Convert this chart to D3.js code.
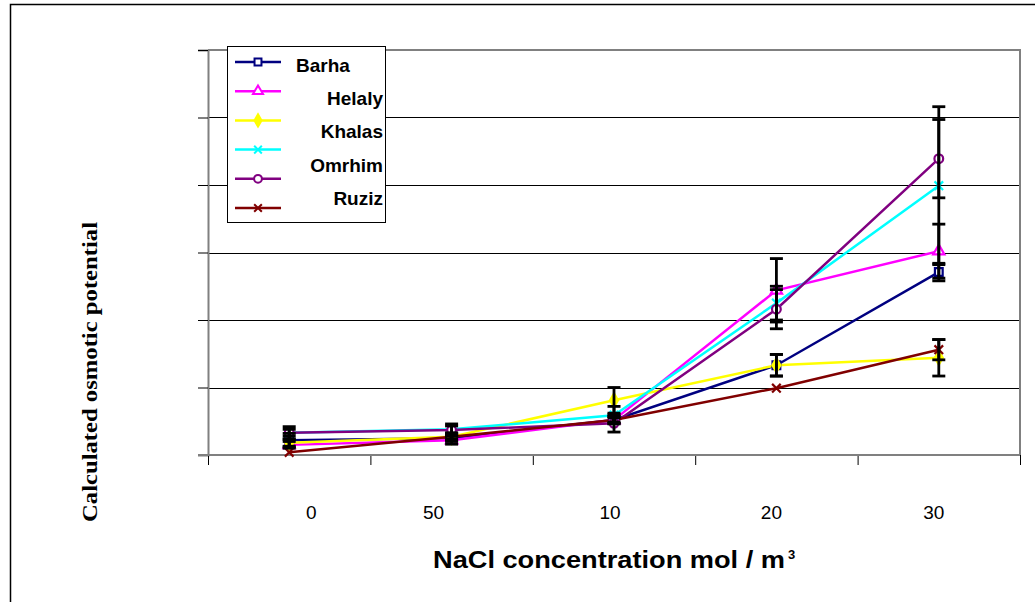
<!DOCTYPE html>
<html>
<head>
<meta charset="utf-8">
<script src="https://cdn.jsdelivr.net/npm/d3@7"></script>
<style>
  body { margin: 0; background: #fff; }
  svg { display: block; }
</style>
</head>
<body>
<div id="chart"></div>
<script>
// categories on the x axis (labels as printed, truncated)
const categories = ['0', '50', '10', '20', '30'];
const yTicks = [0, 1, 2, 3, 4, 5, 6];

// series values (arbitrary units)
const barha   = [0.22, 0.25, 0.52, 1.33, 2.71];
const helaly  = [0.15, 0.22, 0.52, 2.44, 3.02];
const khalas  = [0.18, 0.27, 0.81, 1.33, 1.44];
const omrhim  = [0.33, 0.38, 0.59, 2.25, 3.99];
const omrhim2 = [0.33, 0.37, 0.47, 2.16, 4.39];
const ruziz   = [0.04, 0.27, 0.52, 0.99, 1.56];

// error bar half-widths
const barhaErr   = [0.10, 0.05, 0.05, 0.16, 0.13];
const helalyErr  = [0.05, 0.06, 0.05, 0.47, 0.40];
const khalasErr  = [0.05, 0.05, 0.19, 0.16, 0.27];
const omrhimErr  = [0.05, 0.05, 0.13, 0.25, 1.17];
const omrhim2Err = [0.09, 0.09, 0.13, 0.29, 0.58];
const ruzizErr   = [0.00, 0.03, 0.03, 0.00, 0.15];

const legendLabels = ['Barha', 'Helaly', 'Khalas', 'Omrhim', 'Ruziz'];

const series = [
  {name: 'Barha',   values: barha,   err: barhaErr,   color: '#000080', symbol: d3.symbolSquare,   size: 60, filled: false},
  {name: 'Helaly',  values: helaly,  err: helalyErr,  color: '#ff00ff', symbol: d3.symbolTriangle, size: 55, filled: false},
  {name: 'Khalas',  values: khalas,  err: khalasErr,  color: '#ffff00', symbol: d3.symbolDiamond,  size: 55, filled: true},
  {name: 'Omrhim',  values: omrhim,  err: omrhimErr,  color: '#00ffff', symbol: d3.symbolX,        size: 50, filled: false},
  {name: 'Omrhim2', values: omrhim2, err: omrhim2Err, color: '#800080', symbol: d3.symbolCircle,   size: 60, filled: false},
  {name: 'Ruziz',   values: ruziz,   err: ruzizErr,   color: '#800000', symbol: d3.symbolX,        size: 50, filled: false}
];

const width = 1035, height = 602;
const plot = {left: 208, right: 1020, top: 50, bottom: 455};
const labelOffsets = [22, -18, -4, -5, -5];

const svg = d3.select('#chart').append('svg')
  .attr('width', width)
  .attr('height', height);

svg.append('rect')
  .attr('width', width).attr('height', height).attr('fill', '#fff');

// outer frame (only top and left are inside the page)
svg.append('rect')
  .attr('x', 10.5).attr('y', 4.5)
  .attr('width', 1200).attr('height', 800)
  .attr('fill', 'none').attr('stroke', '#000').attr('stroke-width', 1.5);

const x = d3.scaleBand()
  .domain(categories)
  .range([plot.left, plot.right]);

const xEdge = d3.scaleLinear()
  .domain([0, categories.length])
  .range([plot.left, plot.right]);

const y = d3.scaleLinear()
  .domain([0, 6])
  .range([plot.bottom, plot.top]);

// gridlines
svg.append('g')
  .selectAll('line')
  .data(yTicks.slice(1, -1))
  .join('line')
  .attr('x1', plot.left).attr('x2', plot.right)
  .attr('y1', d => Math.round(y(d)) + 0.5).attr('y2', d => Math.round(y(d)) + 0.5)
  .attr('stroke', '#000').attr('stroke-width', 1);

// plot frame (gray)
svg.append('path')
  .attr('d', `M${plot.left},${plot.top}H${plot.right}V${plot.bottom}`)
  .attr('fill', 'none').attr('stroke', '#808080').attr('stroke-width', 2);

// y axis: ticks only
const yAxis = svg.append('g')
  .attr('transform', `translate(${plot.left},0)`)
  .call(d3.axisLeft(y).tickValues(yTicks).tickSize(10).tickFormat(''));
yAxis.select('.domain').attr('stroke', '#808080').attr('stroke-width', 2);
yAxis.selectAll('.tick line').attr('stroke', '#000');

// x axis: ticks at category edges
const xAxis = svg.append('g')
  .attr('transform', `translate(0,${plot.bottom})`)
  .call(d3.axisBottom(xEdge).ticks(categories.length).tickSize(10).tickSizeOuter(0).tickFormat(''));
xAxis.select('.domain').remove();
xAxis.selectAll('.tick line').attr('stroke', '#000');
svg.append('line')
  .attr('x1', plot.left - 10).attr('x2', plot.right)
  .attr('y1', plot.bottom).attr('y2', plot.bottom)
  .attr('stroke', '#808080').attr('stroke-width', 2);

// category labels
svg.append('g')
  .selectAll('text')
  .data(categories)
  .join('text')
  .attr('x', (d, i) => x(d) + x.bandwidth() / 2 + labelOffsets[i])
  .attr('y', 519)
  .attr('text-anchor', 'middle')
  .attr('font-family', 'Liberation Sans, Arial, sans-serif')
  .attr('font-size', 19)
  .attr('fill', '#000')
  .text(d => d);

const cx = i => x(categories[i]) + x.bandwidth() / 2;

const line = d3.line()
  .x((d, i) => cx(i))
  .y(d => y(d));

// lines
svg.append('g')
  .selectAll('path')
  .data(series)
  .join('path')
  .attr('d', s => line(s.values))
  .attr('fill', 'none')
  .attr('stroke', s => s.color)
  .attr('stroke-width', 2.5);

// markers
series.forEach(s => {
  const sym = d3.symbol().type(s.symbol).size(s.size);
  svg.append('g')
    .selectAll('path')
    .data(s.values)
    .join('path')
    .attr('transform', (d, i) => `translate(${cx(i)},${y(d)})`)
    .attr('d', sym())
    .attr('fill', s.filled ? s.color : (s.symbol === d3.symbolX ? 'none' : '#fff'))
    .attr('stroke', s.color)
    .attr('stroke-width', 2.2);
});

// error bars
const errG = svg.append('g').attr('stroke', '#000').attr('stroke-width', 2.8);
series.forEach(s => {
  s.values.forEach((v, i) => {
    const e = s.err[i];
    if (!e) return;
    const px = cx(i);
    errG.append('line')
      .attr('x1', px).attr('x2', px)
      .attr('y1', y(v + e)).attr('y2', y(v - e));
    [v + e, v - e].forEach(t => {
      errG.append('line')
        .attr('x1', px - 6.5).attr('x2', px + 6.5)
        .attr('y1', y(t)).attr('y2', y(t));
    });
  });
});

// legend
const legend = svg.append('g');
legend.append('rect')
  .attr('x', 227.5).attr('y', 46.5)
  .attr('width', 158).attr('height', 176)
  .attr('fill', '#fff').attr('stroke', '#000').attr('stroke-width', 1);

series.forEach((s, i) => {
  const ly = 62 + i * 29.2;
  legend.append('line')
    .attr('x1', 235).attr('x2', 281)
    .attr('y1', ly).attr('y2', ly)
    .attr('stroke', s.color).attr('stroke-width', 2.5);
  legend.append('path')
    .attr('transform', `translate(258,${ly})`)
    .attr('d', d3.symbol().type(s.symbol).size(s.size * 0.8)())
    .attr('fill', s.filled ? s.color : (s.symbol === d3.symbolX ? 'none' : '#fff'))
    .attr('stroke', s.color)
    .attr('stroke-width', 2);
});

legend.selectAll('text')
  .data(legendLabels)
  .join('text')
  .attr('x', (d, i) => i === 0 ? 296 : 383)
  .attr('y', (d, i) => 71.5 + i * 33.4)
  .attr('text-anchor', (d, i) => i === 0 ? 'start' : 'end')
  .attr('font-family', 'Liberation Sans, Arial, sans-serif')
  .attr('font-weight', 'bold')
  .attr('font-size', 19)
  .attr('fill', '#000')
  .text(d => d);

// axis titles
svg.append('text')
  .attr('x', 433).attr('y', 568)
  .attr('font-family', 'Liberation Sans, Arial, sans-serif')
  .attr('font-weight', 'bold')
  .attr('font-size', 23)
  .attr('textLength', 352)
  .attr('lengthAdjust', 'spacingAndGlyphs')
  .text('NaCl concentration mol / m');
svg.append('text')
  .attr('x', 788).attr('y', 559)
  .attr('font-family', 'Liberation Sans, Arial, sans-serif')
  .attr('font-weight', 'bold')
  .attr('font-size', 13)
  .text('3');

svg.append('text')
  .attr('transform', 'translate(97,372) rotate(-90)')
  .attr('text-anchor', 'middle')
  .attr('font-family', 'Liberation Serif, Times New Roman, serif')
  .attr('font-weight', 'bold')
  .attr('font-size', 21)
  .attr('textLength', 300)
  .attr('lengthAdjust', 'spacingAndGlyphs')
  .text('Calculated osmotic potential');
</script>
</body>
</html>
